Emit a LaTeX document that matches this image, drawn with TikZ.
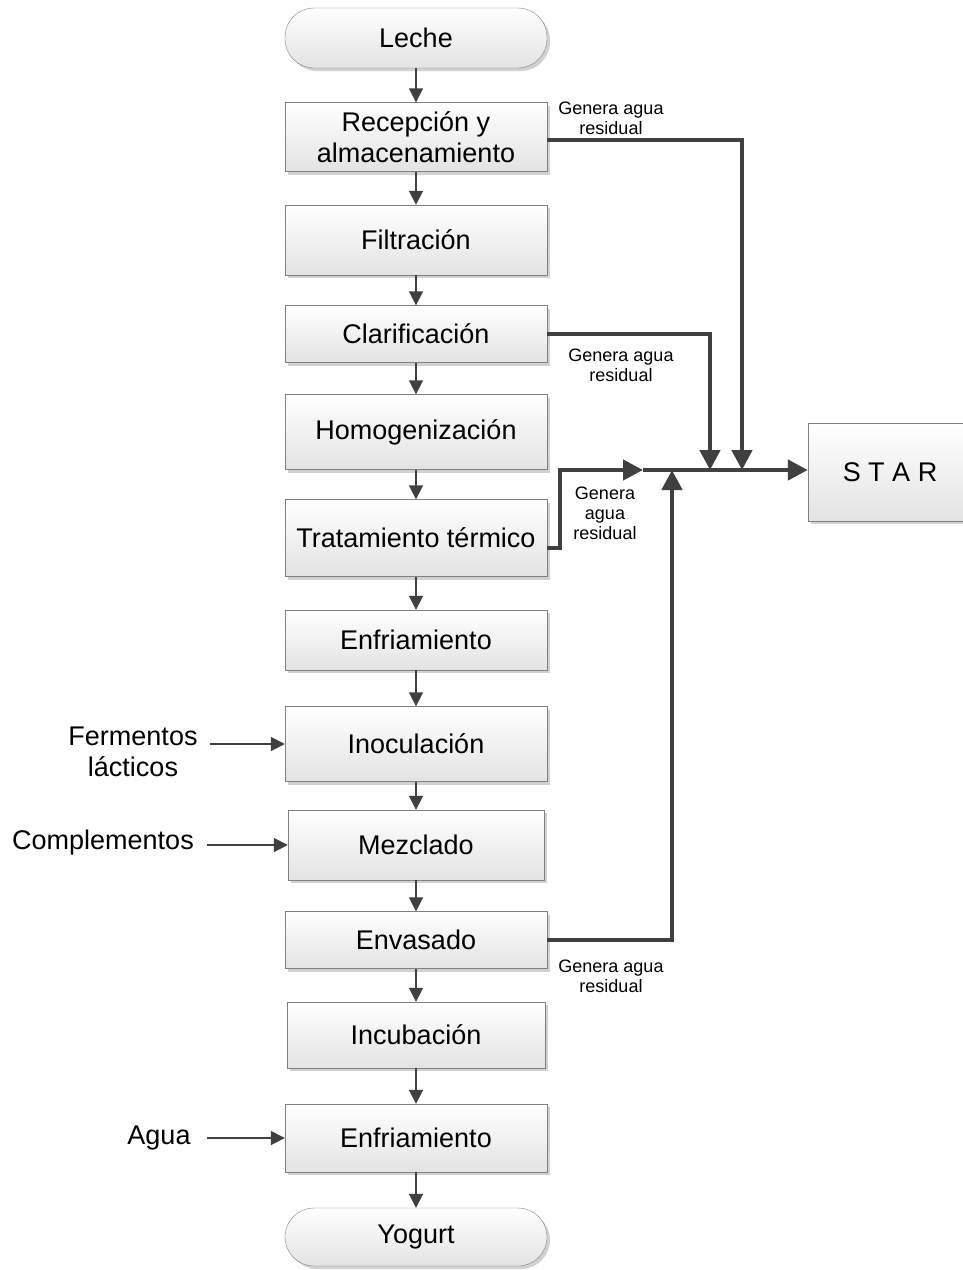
\documentclass[tikz,border=0pt]{standalone}
\usepackage{fontspec}
\setmainfont{Liberation Sans}
\usetikzlibrary{arrows.meta,shadows}

\begin{document}
\begin{tikzpicture}[x=1pt,y=-1pt,
    paso/.style={draw=gray, top color=white, bottom color=gray!22,
        drop shadow={shadow xshift=3pt, shadow yshift=-3pt, fill=gray!45, opacity=0.8},
        minimum width=262pt, align=center, inner sep=0pt,
        font=\fontsize{27}{31}\selectfont},
    term/.style={paso, rounded corners=29pt},
    flecha/.style={line width=1.8pt, black!75, -{Triangle[length=14pt,width=14pt]}},
    residuo/.style={line width=4.5pt, black!75, -{Triangle[length=20pt,width=20pt]}},
    nota/.style={align=center, font=\fontsize{18}{20}\selectfont},
    entrada/.style={align=center, font=\fontsize{27}{31}\selectfont}]

            % 画布
            \useasboundingbox (0,0) rectangle (962,1270);

            % 主流程
            \node[term, minimum height=60pt] (leche) at (416,38) {Leche};
            \node[paso, minimum height=69pt] (recep) at (416,137) {Recepción y\\almacenamiento};
            \node[paso, minimum height=70pt] (filt) at (416,240) {Filtración};
            \node[paso, minimum height=57pt] (clar) at (416,334) {Clarificación};
            \node[paso, minimum height=75pt] (homo) at (416,432) {Homogenización};
            \node[paso, minimum height=77pt] (trat) at (416,538) {Tratamiento térmico};
            \node[paso, minimum height=60pt] (enfr1) at (416,640) {Enfriamiento};
            \node[paso, minimum height=75pt] (inoc) at (416,744) {Inoculación};
            \node[paso, minimum height=70pt, minimum width=256pt] (mezc) at (416,845) {Mezclado};
            \node[paso, minimum height=57pt] (envas) at (416,940) {Envasado};
            \node[paso, minimum height=66pt, minimum width=258pt] (incub) at (416,1035) {Incubación};
            \node[paso, minimum height=68pt] (enfr2) at (416,1138) {Enfriamiento};
            \node[term, minimum height=58pt] (yogurt) at (416,1237) {Yogurt};

            % STAR
            \node[paso, minimum width=164pt, minimum height=98pt] (star) at (890,472) {S T A R};

            % 主流程箭头
            \draw[flecha] (leche) -- (recep);
            \draw[flecha] (recep) -- (filt);
            \draw[flecha] (filt) -- (clar);
            \draw[flecha] (clar) -- (homo);
            \draw[flecha] (homo) -- (trat);
            \draw[flecha] (trat) -- (enfr1);
            \draw[flecha] (enfr1) -- (inoc);
            \draw[flecha] (inoc) -- (mezc);
            \draw[flecha] (mezc) -- (envas);
            \draw[flecha] (envas) -- (incub);
            \draw[flecha] (incub) -- (enfr2);
            \draw[flecha] (enfr2) -- (yogurt);

            % 输入
            \node[entrada] (ferm) at (133,752) {Fermentos\\lácticos};
            \node[entrada] (comp) at (103,843) {Complementos};
            \node[entrada] (agua) at (159,1138) {Agua};
            \draw[flecha] ([xshift=9pt]ferm.east |- inoc.west) -- (inoc.west);
            \draw[flecha] ([xshift=10pt]comp.east |- mezc.west) -- (mezc.west);
            \draw[flecha] ([xshift=13pt]agua.east |- enfr2.west) -- (enfr2.west);

            % 废水汇合点
            \coordinate (j1) at (742,470);
            \coordinate (j2) at (710,470);
            \coordinate (j3) at (643,470);
            \coordinate (j4) at (672,470);

            % 废水线
            \draw[residuo] ([yshift=-3pt]recep.east) -| (j1);
            \draw[residuo] (clar.east) -| (j2);
            \draw[residuo] ([yshift=-10pt]trat.east) -- ++(13,0) |- (j3);
            \draw[residuo] (envas.east) -| (j4);
            \draw[residuo] (j3) -- (j3 -| star.west);

            % 标注
            \node[nota] (n1) at (611,118) {Genera agua\\residual};
            \node[nota] (n2) at (621,365) {Genera agua\\residual};
            \node[nota] (n3) at (605,513) {Genera\\agua\\residual};
            \node[nota] (n4) at (611,976) {Genera agua\\residual};
        \end{tikzpicture}
\end{document}
